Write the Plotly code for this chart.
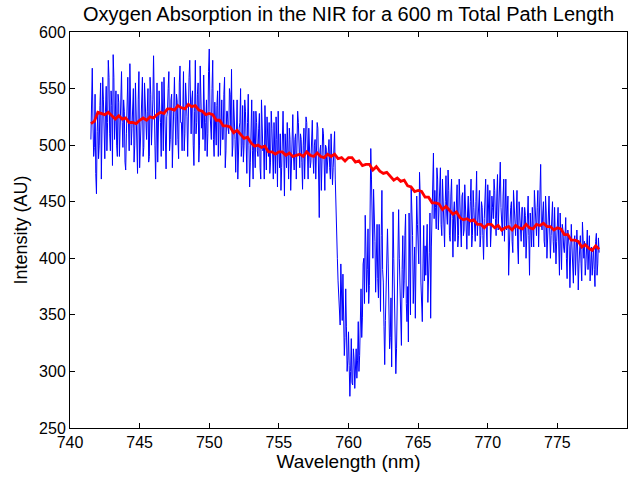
import plotly.graph_objects as go

# ---- data ----
blue_start = 741.5
blue_step = 0.1
# samples at 741.5, 741.6, ... 778.0
blue_intensity = [
    505, 568, 490, 545, 457, 530, 500, 555, 515, 540,
    488, 552, 520, 560, 495, 535, 580, 505, 548, 490,
    538, 512, 565, 498, 530, 478, 545, 520, 572, 500,
    528, 485, 555, 510, 540, 480, 525, 560, 498, 535,
    505, 550, 490, 545, 515, 579, 500, 532, 485, 548,
    520, 556, 495, 540, 479, 530, 565, 505, 545, 518,
    560, 500, 538, 488, 570, 520, 548, 495, 555, 525,
    540, 575, 510, 548, 482, 575, 520, 555, 500, 545,
    530, 562, 495, 540, 510, 585, 520, 550, 505, 538,
    500, 548, 515, 491, 540, 505, 560, 495, 530, 510,
    545, 567, 500, 525, 476, 540, 505, 520, 490, 535,
    500, 530, 475, 545, 463, 515, 495, 530, 480, 520,
    490, 528, 470, 510, 500, 535, 478, 505, 520, 485,
    515, 470, 500, 525, 463, 495, 510, 480, 530, 455,
    500, 520, 470, 505, 488, 527, 478, 510, 495, 520,
    480, 505, 461, 515, 490, 520, 470, 500, 485, 522,
    475, 505, 490, 515, 436, 500, 480, 510, 460, 498,
    485, 505, 470, 495, 480, 512, 435, 400, 364, 341,
    370, 386, 314, 373, 300, 335, 278, 329, 288, 311,
    300, 294, 344, 314, 373, 348, 400, 438, 370, 426,
    376, 497, 432, 461, 415, 400, 382, 430, 353, 460,
    379, 306, 380, 426, 361, 330, 304, 441, 361, 298,
    380, 443, 362, 323, 420, 380, 439, 344, 326, 400,
    464, 420, 388, 347, 455, 410, 476, 379, 344, 429,
    411, 400, 361, 405, 347, 446, 493, 460, 426, 470,
    440, 480, 420, 455, 410, 473, 430, 460, 415, 470,
    401, 450, 428, 465, 420, 445, 410, 458, 425, 440,
    408, 455, 430, 470, 420, 445, 415, 477, 435, 460,
    420, 445, 399, 450, 425, 465, 430, 410, 455, 435,
    460, 420, 474, 440, 485, 430, 455, 415, 470, 440,
    385, 430, 450, 405, 440, 420, 460, 395, 435, 415,
    445, 410, 438, 420, 455, 385, 430, 445, 410, 440,
    420, 460, 430, 483, 425, 450, 410, 440, 420, 455,
    400, 435, 415, 445, 395, 430, 410, 440, 390, 425,
    405, 436, 382, 420, 374, 430, 395, 415, 385, 425,
    372, 410, 395, 432, 400, 385, 415, 390, 420, 400,
    385, 410, 375, 422, 395, 405,
]
# samples at 741.55, 741.65, ... 777.95
blue_intensity_mid = [
    540, 520, 498, 475, 512, 488, 535, 470, 560, 505,
    530, 495, 575, 510, 548, 482, 560, 525, 500, 545,
    490, 555, 520, 540, 485, 510, 560, 495, 530, 515,
    550, 500, 530, 475, 565, 505, 540, 490, 555, 515,
    530, 485, 560, 500, 540, 520, 470, 555, 510, 530,
    490, 530, 560, 505, 525, 550, 495, 540, 480, 560,
    525, 545, 505, 555, 520, 495, 565, 510, 540, 490,
    560, 520, 540, 500, 530, 510, 545, 485, 570, 515,
    505, 540, 520, 490, 565, 530, 505, 575, 490, 520,
    535, 490, 555, 520, 505, 545, 480, 530, 515, 550,
    515, 490, 540, 505, 530, 470, 515, 550, 500, 485,
    540, 490, 520, 500, 485, 540, 470, 510, 530, 495,
    515, 480, 540, 495, 470, 510, 525, 490, 475, 530,
    490, 520, 475, 505, 530, 480, 460, 515, 495, 510,
    480, 495, 515, 460, 520, 490, 505, 470, 530, 485,
    510, 485, 500, 470, 525, 495, 515, 480, 505, 490,
    500, 470, 520, 480, 495, 460, 515, 485, 500, 475,
    495, 480, 510, 465, 500, 470, 420, 380, 350, 395,
    345, 355, 330, 340, 310, 305, 300, 290, 320, 285,
    320, 310, 300, 335, 330, 395, 360, 410, 390, 360,
    440, 470, 400, 445, 370, 430, 365, 400, 420, 390,
    340, 345, 410, 395, 320, 365, 420, 400, 330, 320,
    415, 400, 340, 390, 365, 420, 360, 375, 440, 350,
    440, 360, 410, 400, 430, 395, 455, 360, 395, 380,
    385, 430, 380, 440, 410, 470, 435, 445, 480, 425,
    465, 430, 470, 425, 450, 440, 478, 420, 455, 435,
    440, 415, 450, 410, 470, 430, 455, 420, 465, 415,
    440, 420, 450, 410, 460, 430, 450, 420, 445, 410,
    450, 420, 435, 470, 410, 440, 460, 425, 445, 470,
    435, 455, 425, 460, 445, 420, 470, 440, 425, 455,
    420, 445, 415, 460, 425, 440, 410, 450, 420, 445,
    425, 445, 400, 450, 420, 440, 410, 425, 460, 420,
    445, 410, 450, 430, 440, 415, 455, 400, 445, 425,
    420, 450, 405, 425, 415, 445, 385, 420, 430, 410,
    420, 400, 425, 410, 395, 410, 378, 420, 400, 410,
    395, 420, 380, 405, 415, 395, 425, 400, 380, 410,
    400, 390, 415, 385, 418,
]

red_start = 741.5
red_step = 0.25
red_intensity = [
    519, 521, 529, 528, 527, 529, 526, 523, 526, 523,
    524, 520, 520, 519, 522, 524, 522, 525, 524, 527,
    529, 528, 532, 532, 531, 535, 533, 532, 536, 534,
    535, 531, 530, 527, 528, 527, 522, 522, 517, 517,
    516, 511, 513, 509, 506, 507, 502, 499, 500, 498,
    499, 494, 494, 492, 494, 494, 491, 493, 490, 491,
    492, 490, 494, 491, 490, 493, 490, 489, 492, 490,
    492, 488, 489, 486, 489, 489, 485, 486, 482, 483,
    483, 478, 481, 477, 475, 476, 472, 469, 471, 468,
    469, 464, 463, 459, 460, 459, 454, 454, 449, 449,
    448, 443, 446, 442, 439, 441, 436, 434, 435, 433,
    434, 430, 430, 427, 430, 430, 427, 429, 425, 427,
    428, 425, 429, 427, 426, 430, 427, 426, 430, 429,
    431, 428, 428, 425, 427, 426, 421, 421, 416, 416,
    415, 410, 412, 409, 407, 411, 408,
]

x_ticks = [740, 745, 750, 755, 760, 765, 770, 775, 780]
y_ticks = [250, 300, 350, 400, 450, 500, 550, 600]

title_text = "Oxygen Absorption in the NIR for a 600 m Total Path Length"
x_label = "Wavelength (nm)"
y_label = "Intensity (AU)"

# interleave the two blue sample sets into one trace on a 0.05 nm grid
blue_wl, blue_vals = [], []
for i, v in enumerate(blue_intensity):
    blue_wl.append(round(blue_start + blue_step * i, 3))
    blue_vals.append(v)
    if i < len(blue_intensity_mid):
        blue_wl.append(round(blue_start + blue_step * i + blue_step / 2, 3))
        blue_vals.append(blue_intensity_mid[i])

red_wl = [round(red_start + red_step * i, 3) for i in range(len(red_intensity))]

font_family = "Liberation Sans, Arial, sans-serif"

fig = go.Figure()
fig.add_trace(go.Scatter(x=blue_wl, y=blue_vals, mode="lines",
                         line=dict(color="#0000FF", width=1), showlegend=False))
fig.add_trace(go.Scatter(x=red_wl, y=red_intensity, mode="lines",
                         line=dict(color="#FF0000", width=2.8), showlegend=False))

axis_common = dict(
    showgrid=False, zeroline=False, showline=True, linecolor="black", linewidth=1,
    mirror="ticks", ticks="inside", ticklen=5, tickcolor="black", tickwidth=1,
    tickfont=dict(family=font_family, size=16, color="black"),
)

fig.update_layout(
    width=639, height=480,
    margin=dict(l=70, r=11, t=32, b=50),
    paper_bgcolor="white", plot_bgcolor="white",
    title=dict(text=title_text, x=0.5, xanchor="center", xref="paper",
               yref="container", y=0.971, yanchor="middle",
               font=dict(family=font_family, size=20, color="black")),
    xaxis=dict(range=[740, 780], tickvals=x_ticks, ticktext=[str(v) for v in x_ticks],
               title=dict(text=x_label, font=dict(family=font_family, size=19, color="black"),
                          standoff=4),
               **axis_common),
    yaxis=dict(range=[250, 600], tickvals=y_ticks, ticktext=[str(v) for v in y_ticks],
               title=dict(text=y_label, font=dict(family=font_family, size=18, color="black"),
                          standoff=6),
               **axis_common),
)

fig.write_html("out.html")
